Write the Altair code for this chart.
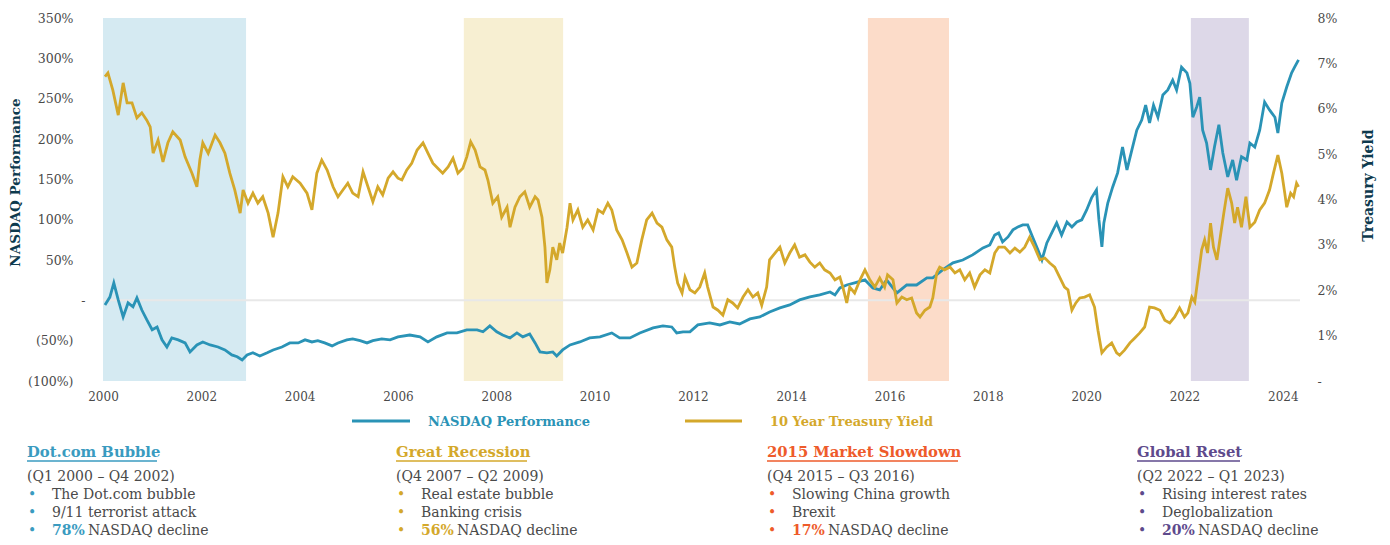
import altair as alt
import pandas as pd

FONT = "DejaVu Serif"
BLUE = "#2A93B6"
GOLD = "#D4A82B"
GRAY = "#4A4A4A"
TEAL = "#0E3A4E"

# NASDAQ performance (%), (decimal year, value)
nasdaq = [
    (2000.04, -5.7), (2000.14, 4), (2000.22, 21.6), (2000.31, 0.5), (2000.41, -20.6), (2000.51, -3.2),
    (2000.61, -8), (2000.69, 3), (2000.79, -12), (2000.89, -24), (2001.00, -36.5), (2001.10, -33),
    (2001.20, -49), (2001.30, -57.8), (2001.40, -46.6), (2001.53, -49), (2001.67, -52.8), (2001.77, -64),
    (2001.91, -55.3), (2002.03, -51.6), (2002.18, -55.3), (2002.34, -57.8), (2002.48, -61.5), (2002.62, -67.7),
    (2002.73, -70), (2002.83, -74), (2002.93, -67.7), (2003.05, -65), (2003.19, -69), (2003.34, -65),
    (2003.46, -61.5), (2003.64, -57.8), (2003.80, -52.8), (2003.97, -52.8), (2004.11, -49), (2004.25, -51.6),
    (2004.37, -50), (2004.51, -52.8), (2004.66, -56.5), (2004.78, -52.8), (2004.96, -49), (2005.08, -47.8),
    (2005.23, -50), (2005.37, -52.8), (2005.49, -50), (2005.67, -47.8), (2005.84, -49), (2006.00, -45.3),
    (2006.24, -43), (2006.45, -45.3), (2006.61, -51.6), (2006.79, -45.3), (2007.00, -40.4), (2007.20, -40.4),
    (2007.40, -36.7), (2007.61, -36.7), (2007.73, -39), (2007.87, -31.7), (2008.01, -39), (2008.13, -43),
    (2008.28, -46.6), (2008.42, -40.4), (2008.54, -45.3), (2008.68, -41.7), (2008.79, -52.8), (2008.89, -64),
    (2009.03, -65), (2009.15, -64), (2009.23, -69), (2009.35, -61.5), (2009.50, -55.3), (2009.70, -51.6),
    (2009.90, -46.6), (2010.11, -45.3), (2010.35, -40.4), (2010.51, -46.6), (2010.72, -46.6), (2010.92, -40.4),
    (2011.19, -34.2), (2011.39, -31.7), (2011.57, -33), (2011.67, -40.4), (2011.80, -39), (2011.94, -39),
    (2012.10, -30.5), (2012.34, -28), (2012.55, -30.5), (2012.75, -26.8), (2012.95, -29.3), (2013.16, -23),
    (2013.36, -20.6), (2013.56, -14.4), (2013.77, -9.4), (2013.97, -5.7), (2014.17, 0.5), (2014.38, 4.2),
    (2014.58, 6.7), (2014.79, 10.4), (2014.89, 6.7), (2014.99, 15.4), (2015.13, 19), (2015.29, 21.6),
    (2015.50, 25.3), (2015.66, 15.4), (2015.80, 12.9), (2015.94, 25.3), (2016.15, 9.2), (2016.35, 19),
    (2016.55, 19), (2016.76, 27.8), (2016.88, 27.8), (2017.08, 37.7), (2017.29, 46.4), (2017.49, 50),
    (2017.69, 56.3), (2017.90, 65), (2018.04, 68.7), (2018.14, 81), (2018.22, 83.6), (2018.30, 72.4),
    (2018.41, 78.6), (2018.51, 87.3), (2018.61, 91), (2018.71, 93.5), (2018.81, 93.5), (2018.91, 78.6),
    (2019.02, 62.5), (2019.10, 50), (2019.20, 71.2), (2019.30, 83.6), (2019.40, 96), (2019.50, 81),
    (2019.61, 97.2), (2019.71, 91), (2019.81, 97.2), (2019.91, 99.7), (2020.01, 112), (2020.11, 127),
    (2020.21, 137), (2020.26, 99.7), (2020.32, 66.2), (2020.36, 96), (2020.44, 120.7), (2020.54, 140.6),
    (2020.64, 158), (2020.74, 190), (2020.83, 161.7), (2020.93, 186.5), (2021.03, 211), (2021.13, 223.5),
    (2021.21, 242), (2021.29, 220), (2021.37, 242), (2021.46, 227), (2021.56, 254.6), (2021.66, 260.8),
    (2021.76, 273), (2021.84, 260.8), (2021.94, 289), (2022.05, 282), (2022.11, 269), (2022.17, 227),
    (2022.25, 240), (2022.31, 252), (2022.37, 211), (2022.45, 195), (2022.53, 161.7), (2022.61, 190),
    (2022.70, 217.6), (2022.78, 182.6), (2022.88, 153), (2022.98, 174), (2023.06, 149), (2023.16, 178),
    (2023.27, 174), (2023.33, 195), (2023.43, 190), (2023.53, 211), (2023.63, 245.8), (2023.73, 236),
    (2023.84, 227), (2023.90, 207.5), (2023.98, 244.6), (2024.08, 264.5), (2024.18, 282), (2024.24, 289),
    (2024.32, 298),
]

# 10 Year Treasury yield (%), (decimal year, value)
treasury = [
    (2000.04, 6.71), (2000.10, 6.79), (2000.20, 6.41), (2000.31, 5.86), (2000.41, 6.57), (2000.49, 6.13),
    (2000.59, 6.13), (2000.69, 5.80), (2000.79, 5.91), (2000.89, 5.75), (2000.96, 5.60), (2001.02, 5.02),
    (2001.12, 5.31), (2001.22, 4.83), (2001.32, 5.25), (2001.42, 5.49), (2001.57, 5.31), (2001.67, 4.94),
    (2001.81, 4.58), (2001.91, 4.28), (2001.97, 4.87), (2002.03, 5.25), (2002.14, 5.02), (2002.28, 5.42),
    (2002.38, 5.25), (2002.48, 5.02), (2002.58, 4.58), (2002.68, 4.21), (2002.79, 3.70), (2002.85, 4.21),
    (2002.95, 3.92), (2003.05, 4.14), (2003.15, 3.92), (2003.25, 4.06), (2003.36, 3.70), (2003.46, 3.17),
    (2003.56, 3.70), (2003.66, 4.50), (2003.76, 4.28), (2003.86, 4.50), (2004.01, 4.36), (2004.15, 4.14),
    (2004.25, 3.77), (2004.35, 4.58), (2004.45, 4.87), (2004.56, 4.65), (2004.68, 4.28), (2004.78, 4.06),
    (2004.88, 4.21), (2004.98, 4.36), (2005.08, 4.14), (2005.19, 4.06), (2005.29, 4.61), (2005.39, 4.28),
    (2005.49, 3.95), (2005.59, 4.28), (2005.69, 4.10), (2005.80, 4.47), (2005.90, 4.61), (2006.00, 4.47),
    (2006.08, 4.43), (2006.18, 4.65), (2006.28, 4.80), (2006.39, 5.09), (2006.51, 5.25), (2006.61, 5.02),
    (2006.71, 4.80), (2006.81, 4.69), (2006.91, 4.58), (2007.02, 4.72), (2007.12, 4.91), (2007.22, 4.58),
    (2007.32, 4.69), (2007.40, 4.94), (2007.48, 5.27), (2007.57, 5.09), (2007.67, 4.72), (2007.77, 4.65),
    (2007.83, 4.43), (2007.93, 3.92), (2008.03, 4.06), (2008.11, 3.61), (2008.22, 3.83), (2008.28, 3.39),
    (2008.38, 3.83), (2008.48, 4.06), (2008.58, 4.17), (2008.68, 3.83), (2008.79, 4.06), (2008.85, 3.99),
    (2008.93, 3.61), (2008.99, 2.95), (2009.03, 2.16), (2009.09, 2.45), (2009.15, 2.95), (2009.23, 2.67),
    (2009.29, 3.04), (2009.35, 2.82), (2009.44, 3.39), (2009.50, 3.92), (2009.56, 3.55), (2009.66, 3.77),
    (2009.76, 3.39), (2009.86, 3.55), (2009.97, 3.33), (2010.07, 3.77), (2010.17, 3.70), (2010.27, 3.92),
    (2010.35, 3.77), (2010.45, 3.33), (2010.56, 3.11), (2010.66, 2.82), (2010.76, 2.51), (2010.86, 2.60),
    (2010.96, 3.11), (2011.06, 3.55), (2011.17, 3.70), (2011.27, 3.48), (2011.37, 3.39), (2011.47, 3.11),
    (2011.57, 2.95), (2011.63, 2.51), (2011.69, 2.16), (2011.78, 1.94), (2011.84, 2.29), (2011.94, 2.01),
    (2012.04, 1.94), (2012.14, 2.07), (2012.24, 2.38), (2012.30, 2.07), (2012.41, 1.63), (2012.51, 1.56),
    (2012.61, 1.45), (2012.71, 1.79), (2012.81, 1.72), (2012.91, 1.61), (2013.02, 1.85), (2013.12, 2.01),
    (2013.22, 1.85), (2013.32, 1.94), (2013.40, 1.67), (2013.50, 2.07), (2013.56, 2.67), (2013.67, 2.82),
    (2013.77, 2.95), (2013.87, 2.60), (2013.97, 2.82), (2014.07, 3.00), (2014.17, 2.73), (2014.28, 2.78),
    (2014.38, 2.62), (2014.48, 2.51), (2014.58, 2.60), (2014.68, 2.45), (2014.79, 2.38), (2014.89, 2.23),
    (2014.99, 2.29), (2015.05, 2.07), (2015.13, 1.72), (2015.19, 2.07), (2015.29, 1.94), (2015.40, 2.23),
    (2015.50, 2.45), (2015.60, 2.23), (2015.70, 2.07), (2015.80, 2.27), (2015.90, 2.07), (2015.96, 2.34),
    (2016.07, 2.23), (2016.15, 1.72), (2016.25, 1.85), (2016.35, 1.79), (2016.45, 1.83), (2016.55, 1.50),
    (2016.62, 1.41), (2016.72, 1.56), (2016.82, 1.63), (2016.88, 1.83), (2016.96, 2.38), (2017.02, 2.51),
    (2017.12, 2.45), (2017.23, 2.51), (2017.33, 2.38), (2017.43, 2.45), (2017.53, 2.23), (2017.63, 2.38),
    (2017.73, 2.07), (2017.84, 2.34), (2017.94, 2.45), (2018.04, 2.38), (2018.14, 2.82), (2018.22, 2.95),
    (2018.34, 2.95), (2018.45, 2.82), (2018.55, 2.93), (2018.65, 2.84), (2018.75, 2.95), (2018.85, 3.17),
    (2018.95, 2.95), (2019.06, 2.67), (2019.16, 2.71), (2019.26, 2.60), (2019.36, 2.51), (2019.46, 2.29),
    (2019.56, 2.07), (2019.63, 2.01), (2019.71, 1.56), (2019.79, 1.72), (2019.87, 1.83), (2019.97, 1.85),
    (2020.07, 1.90), (2020.17, 1.63), (2020.24, 1.12), (2020.32, 0.62), (2020.42, 0.75), (2020.52, 0.84),
    (2020.62, 0.62), (2020.68, 0.57), (2020.78, 0.68), (2020.89, 0.84), (2020.99, 0.95), (2021.09, 1.06),
    (2021.19, 1.19), (2021.29, 1.63), (2021.39, 1.61), (2021.50, 1.56), (2021.60, 1.34), (2021.70, 1.28),
    (2021.80, 1.41), (2021.90, 1.61), (2022.00, 1.41), (2022.07, 1.50), (2022.15, 1.85), (2022.21, 1.74),
    (2022.27, 2.23), (2022.35, 2.89), (2022.41, 3.11), (2022.47, 2.82), (2022.53, 3.48), (2022.59, 2.95),
    (2022.66, 2.67), (2022.74, 3.26), (2022.80, 3.70), (2022.88, 4.25), (2022.96, 3.92), (2023.02, 3.48),
    (2023.08, 3.83), (2023.16, 3.39), (2023.25, 4.06), (2023.33, 3.39), (2023.43, 3.50), (2023.53, 3.77),
    (2023.63, 3.92), (2023.73, 4.21), (2023.81, 4.58), (2023.90, 4.98), (2023.98, 4.58), (2024.04, 4.14),
    (2024.08, 3.83), (2024.16, 4.14), (2024.22, 4.06), (2024.28, 4.36), (2024.32, 4.28),
]

period_names = ["Dot.com Bubble", "Great Recession", "2015 Market Slowdown", "Global Reset"]
period_start = [2000.0, 2007.34, 2015.56, 2022.13]
period_end = [2002.91, 2009.36, 2017.21, 2023.31]
period_fill = ["#D5EAF2", "#F7EFD2", "#FCDCC9", "#DDD8E8"]
period_color = ["#3A9BC0", "#D4A82B", "#EE5B2B", "#5E4A8C"]
period_range = ["(Q1 2000 \u2013 Q4 2002)", "(Q4 2007 \u2013 Q2 2009)",
                "(Q4 2015 \u2013 Q3 2016)", "(Q2 2022 \u2013 Q1 2023)"]
period_bullets = [["The Dot.com bubble", "9/11 terrorist attack"],
                  ["Real estate bubble", "Banking crisis"],
                  ["Slowing China growth", "Brexit"],
                  ["Rising interest rates", "Deglobalization"]]
period_decline = ["78%", "56%", "17%", "20%"]
decline_text = "NASDAQ decline"

x_ticks = list(range(2000, 2025, 2))
left_ticks = [-100, -50, 0, 50, 100, 150, 200, 250, 300, 350]
right_ticks = [0, 1, 2, 3, 4, 5, 6, 7, 8]
legend_labels = ["NASDAQ Performance", "10 Year Treasury Yield"]

W, H = 1197, 363

nasdaq_df = pd.DataFrame(nasdaq, columns=["year", "value"])
treasury_df = pd.DataFrame(treasury, columns=["year", "value"])
shade_df = pd.DataFrame({"name": period_names, "start": period_start, "end": period_end})
one = pd.DataFrame({"k": [0]})

xscale = alt.Scale(domain=[2000, 2024.35], nice=False, zero=False)
x_axis = alt.Axis(values=x_ticks, format="d", title=None, grid=False, domain=False, ticks=False,
                  labelFlush=False, labelPadding=10, labelFontSize=12, labelColor=GRAY, labelFont=FONT)
left_scale = alt.Scale(domain=[-100, 350], nice=False, zero=False)
right_scale = alt.Scale(domain=[0, 8], nice=False, zero=False)

left_axis = alt.Axis(
    values=left_ticks,
    labelExpr="datum.value > 0 ? datum.value + '%' : (datum.value < 0 ? '(' + (-datum.value) + '%)' : '-')",
    title="NASDAQ Performance", grid=False, domain=False, ticks=False,
    labelPadding={"condition": {"test": "datum.value == 0", "value": 18}, "value": 30},
    labelFontSize=12.5, labelColor=GRAY, labelFont=FONT, labelFlush=False,
    titleFontSize=13.5, titleFontWeight="bold", titleColor=TEAL, titleFont=FONT,
    titleAngle=270, titleX=-88, titleY=164, titleAlign="center", titleBaseline="middle",
)
right_axis = alt.Axis(
    values=right_ticks, orient="right",
    labelExpr="datum.value == 0 ? '-' : datum.value + '%'",
    title="Treasury Yield", grid=False, domain=False, ticks=False, labelFlush=False,
    labelPadding=17, labelAlign="left", labelFontSize=12.5, labelColor=GRAY, labelFont=FONT,
    titleFontSize=14, titleFontWeight="bold", titleColor=TEAL, titleFont=FONT,
    titleAngle=270, titleX=68, titleY=167, titleAlign="center", titleBaseline="middle",
)

shades = alt.Chart(shade_df).mark_rect().encode(
    x=alt.X("start:Q", scale=xscale, axis=x_axis),
    x2="end:Q",
    color=alt.Color("name:N", scale=alt.Scale(domain=period_names, range=period_fill), legend=None),
)

zero_rule = alt.Chart(one).mark_rule(color="#E8E8E8", strokeWidth=2).encode(
    y=alt.Y("k:Q", scale=left_scale, axis=left_axis)
)
nasdaq_line = alt.Chart(nasdaq_df).mark_line(color=BLUE, strokeWidth=2.8).encode(
    x=alt.X("year:Q", scale=xscale, axis=x_axis),
    y=alt.Y("value:Q", scale=left_scale, axis=left_axis),
)
left_layer = alt.layer(zero_rule, nasdaq_line)

treasury_line = alt.Chart(treasury_df).mark_line(color=GOLD, strokeWidth=2.8).encode(
    x=alt.X("year:Q", scale=xscale, axis=x_axis),
    y=alt.Y("value:Q", scale=right_scale, axis=right_axis),
)

extras = []

# legend
legend_colors = [BLUE, GOLD]
legend_rule_x = [(249, 307), (582, 639)]
legend_text_x = [325, 667]
for lab, col, (a, b), tx in zip(legend_labels, legend_colors, legend_rule_x, legend_text_x):
    extras.append(alt.Chart(one).mark_rule(color=col, strokeWidth=3).encode(
        x=alt.value(a), x2=alt.value(b), y=alt.value(403)))
    extras.append(alt.Chart(one).mark_text(
        align="left", baseline="middle", font=FONT, fontSize=13, fontWeight="bold", color=col
    ).encode(x=alt.value(tx), y=alt.value(404), text=alt.value(lab)))

# annotation blocks
block_x = [-76, 293, 664, 1034]
title_w = [130, 131, 191, 103]
for i in range(4):
    bx = block_x[i]
    col = period_color[i]
    extras.append(alt.Chart(one).mark_text(
        align="left", baseline="middle", font=FONT, fontSize=14.8, fontWeight="bold", color=col
    ).encode(x=alt.value(bx), y=alt.value(435), text=alt.value(period_names[i])))
    extras.append(alt.Chart(one).mark_rule(color=col, strokeWidth=1.5).encode(
        x=alt.value(bx), x2=alt.value(bx + title_w[i]), y=alt.value(443)))
    extras.append(alt.Chart(one).mark_text(
        align="left", baseline="middle", font=FONT, fontSize=14, color=GRAY
    ).encode(x=alt.value(bx), y=alt.value(459), text=alt.value(period_range[i])))
    rows_y = [477, 495, 513]
    for j, yy in enumerate(rows_y):
        extras.append(alt.Chart(one).mark_text(
            align="center", baseline="middle", font=FONT, fontSize=14, color=col
        ).encode(x=alt.value(bx + 5), y=alt.value(yy), text=alt.value("\u2022")))
        if j < 2:
            extras.append(alt.Chart(one).mark_text(
                align="left", baseline="middle", font=FONT, fontSize=14, color=GRAY
            ).encode(x=alt.value(bx + 25), y=alt.value(yy), text=alt.value(period_bullets[i][j])))
        else:
            extras.append(alt.Chart(one).mark_text(
                align="left", baseline="middle", font=FONT, fontSize=14, fontWeight="bold", color=col
            ).encode(x=alt.value(bx + 25), y=alt.value(yy), text=alt.value(period_decline[i])))
            extras.append(alt.Chart(one).mark_text(
                align="left", baseline="middle", font=FONT, fontSize=14, color=GRAY
            ).encode(x=alt.value(bx + 61), y=alt.value(yy), text=alt.value(decline_text)))

chart = alt.layer(shades, left_layer, treasury_line, *extras).resolve_scale(
    y="independent"
).properties(
    width=W, height=H,
    padding={"left": 95, "top": 10, "right": 82, "bottom": 163},
    autosize=alt.AutoSizeParams(type="none"),
).configure(font=FONT).configure_view(stroke=None)

chart.save("out.html", embed_options={"renderer": "svg", "actions": False})
